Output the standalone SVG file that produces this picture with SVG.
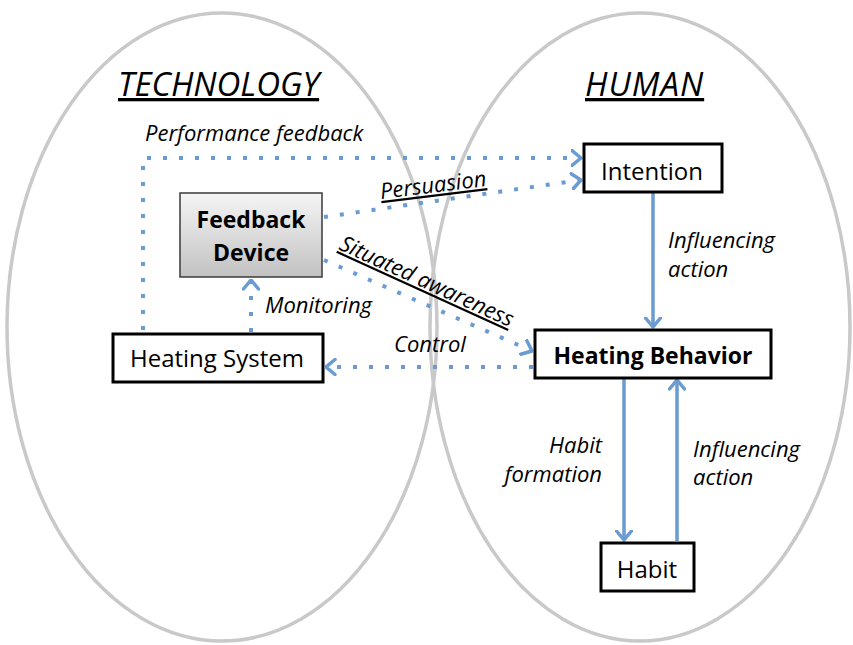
<svg xmlns="http://www.w3.org/2000/svg" width="853" height="645" viewBox="0 0 853 645">
<style>
text{font-family:"Open Sans","Liberation Sans",sans-serif;fill:#000}
.it{font-style:italic}
.lbl{font-style:italic;font-size:22px}
.b{font-weight:bold}
.box{fill:#fff;stroke:#000;stroke-width:3}
.ell{fill:none;stroke:#c9c9c9;stroke-width:3.5}
.dot{fill:none;stroke:#6a9bd1;stroke-width:4;stroke-dasharray:4 12}
.sol{fill:none;stroke:#6a9bd1;stroke-width:3.5}
</style>
<defs>
<linearGradient id="grad" x1="0" y1="0" x2="0" y2="1">
<stop offset="0" stop-color="#f5f5f5"/>
<stop offset="1" stop-color="#c2c2c2"/>
</linearGradient>
<marker id="ah" markerUnits="userSpaceOnUse" viewBox="0 0 12 18" refX="10.5" refY="9" markerWidth="12" markerHeight="18" orient="auto">
<path d="M1.5,1.5 L10.5,9 L1.5,16.5" fill="none" stroke="#6a9bd1" stroke-width="3.5" stroke-linecap="round" stroke-linejoin="round"/>
</marker>
</defs>
<g id="ellipses">
<ellipse class="ell" cx="222" cy="327" rx="215" ry="314"/>
<ellipse class="ell" cx="640" cy="327" rx="210" ry="314"/>
</g>
<g id="titles">
<text class="it" x="118" y="96" font-size="33" text-decoration="underline">TECHNOLOGY</text>
<text class="it" x="585" y="96" font-size="33" letter-spacing="1" text-decoration="underline">HUMAN</text>
</g>
<g id="connectors">
<path class="dot" d="M143,330 V158 H581" marker-end="url(#ah)"/>
<path class="dot" d="M324,217 L581,180" marker-end="url(#ah)"/>
<path class="dot" d="M324,260 L532,351" marker-end="url(#ah)"/>
<path class="dot" d="M533,367 H326" marker-end="url(#ah)"/>
<path class="dot" d="M251,332 V280" marker-end="url(#ah)"/>
<path class="sol" d="M653,193 V327" marker-end="url(#ah)"/>
<path class="sol" d="M624,378 V540" marker-end="url(#ah)"/>
<path class="sol" d="M677,541 V380" marker-end="url(#ah)"/>
<text class="lbl" x="145" y="141">Performance feedback</text>
<text class="lbl" x="0" y="0" text-decoration="underline" transform="translate(381,199) rotate(-7)">Persuasion</text>
<text class="lbl" x="0" y="0" text-decoration="underline" transform="translate(338,249) rotate(24.5)">Situated awareness</text>
<text class="lbl" x="265" y="313">Monitoring</text>
<text class="lbl" x="394" y="352">Control</text>
<text class="lbl" x="668" y="248">Influencing</text>
<text class="lbl" x="668" y="277">action</text>
<text class="lbl" x="602" y="453" text-anchor="end">Habit</text>
<text class="lbl" x="602" y="482" text-anchor="end">formation</text>
<text class="lbl" x="693" y="457">Influencing</text>
<text class="lbl" x="693" y="485">action</text>
</g>
<g id="feedback-device">
<rect x="180" y="193" width="142" height="84" fill="url(#grad)" stroke="#3a3a3a" stroke-width="1.5"/>
<text class="b" x="251" y="228" font-size="23" text-anchor="middle">Feedback</text>
<text class="b" x="251" y="261" font-size="23" text-anchor="middle">Device</text>
</g>
<g id="heating-system">
<rect class="box" x="113" y="334" width="210" height="48"/>
<text x="217" y="367" font-size="24" text-anchor="middle">Heating System</text>
</g>
<g id="intention">
<rect class="box" x="584" y="144" width="138" height="48"/>
<text x="652" y="180" font-size="24" text-anchor="middle">Intention</text>
</g>
<g id="heating-behavior">
<rect class="box" x="535" y="330" width="236" height="48"/>
<text class="b" x="653" y="364" font-size="23" text-anchor="middle">Heating Behavior</text>
</g>
<g id="habit">
<rect class="box" x="601" y="543" width="93" height="48"/>
<text x="647" y="578" font-size="24" text-anchor="middle">Habit</text>
</g>
</svg>
